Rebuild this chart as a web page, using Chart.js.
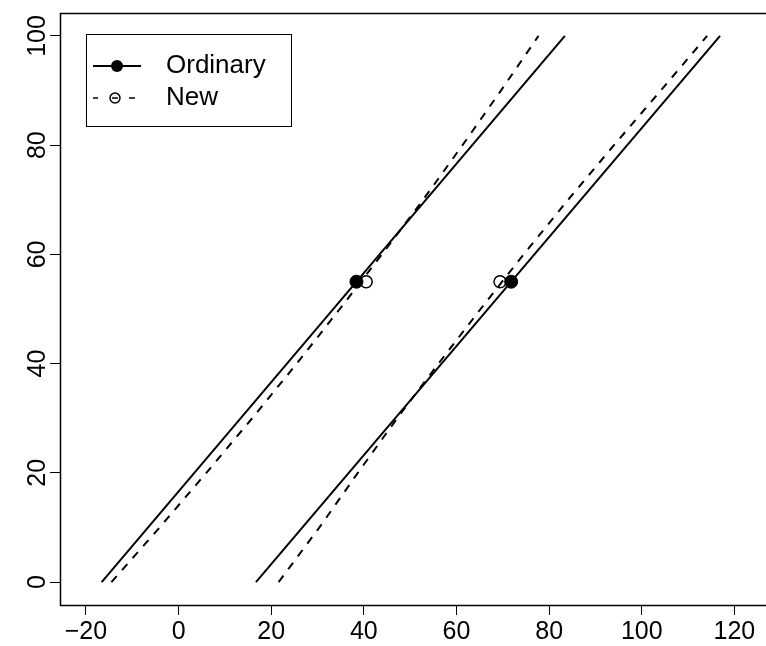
<!DOCTYPE html>
<html>
<head>
<meta charset="utf-8">
<script src="https://cdn.jsdelivr.net/npm/chart.js@4"></script>
<style>
  html, body { margin: 0; padding: 0; background: #fff; }
  #wrap { width: 766px; height: 646px; }
</style>
</head>
<body>
<div id="wrap"><canvas id="chart"></canvas></div>
<script>
// axis ticks
const xTicks = [-20, 0, 20, 40, 60, 80, 100, 120];
const yTicks = [0, 20, 40, 60, 80, 100];

// ordinary (solid) lines: two straight lines
const ordinaryY = [0, 100];
const ordinaryLowX = [-16.6, 83.4];
const ordinaryHighX = [16.7, 116.9];

// new (dashed) curves
const newY = [0, 10, 20, 30, 40, 50, 60, 70, 80, 90, 100];
const newLowX = [-14.5, -4.1, 6.0, 15.9, 25.5, 34.8, 43.9, 52.8, 61.3, 69.6, 77.7];
const newHighX = [21.6, 30.4, 38.7, 47.2, 56.1, 65.2, 74.5, 84.1, 94.0, 104.1, 114.1];

// marked points at y = 55
const pointY = [55, 55];
const ordinaryPointX = [38.4, 71.8];
const newPointX = [40.5, 69.4];

const FONT = '"Liberation Sans", Arial, Helvetica, sans-serif';

const toXY = (xs, ys) => xs.map((x, i) => ({ x: x, y: ys[i] }));

// box around the plot region (like R's box())
const boxPlugin = {
  id: 'box',
  afterDatasetsDraw(chart) {
    const { ctx, chartArea: a } = chart;
    ctx.save();
    ctx.strokeStyle = '#000';
    ctx.lineWidth = 1.5;
    ctx.strokeRect(a.left + 0.5, a.top + 0.5, a.right - a.left + 10, a.bottom - a.top);
    ctx.restore();
  }
};

// legend with line + point samples inside a framed box
const legendBox = {
  id: 'legendBox',
  afterDraw(chart) {
    const ctx = chart.ctx;
    const ds = chart.data.datasets;
    ctx.save();
    ctx.strokeStyle = '#000';
    ctx.fillStyle = '#fff';
    ctx.lineWidth = 1;
    ctx.fillRect(86, 34, 206, 93);
    ctx.strokeRect(86.5, 34.5, 205, 92);

    // Ordinary
    let y = 66;
    ctx.lineWidth = 2;
    ctx.beginPath();
    ctx.moveTo(93, y); ctx.lineTo(141, y);
    ctx.stroke();
    ctx.fillStyle = '#000';
    ctx.beginPath();
    ctx.arc(117, y, 6, 0, Math.PI * 2);
    ctx.fill();

    // New
    y = 98;
    ctx.lineWidth = 1.5;
    [[93, 98], [112, 118], [129, 135]].forEach(s => {
      ctx.beginPath();
      ctx.moveTo(s[0], y); ctx.lineTo(s[1], y);
      ctx.stroke();
    });
    ctx.beginPath();
    ctx.arc(115, y, 5, 0, Math.PI * 2);
    ctx.stroke();

    ctx.fillStyle = '#000';
    ctx.font = '26px ' + FONT;
    ctx.textBaseline = 'middle';
    ctx.textAlign = 'left';
    ctx.fillText(ds[0].label, 166, 66);
    ctx.fillText(ds[2].label, 166, 98);
    ctx.restore();
  }
};

new Chart(document.getElementById('chart'), {
  type: 'scatter',
  data: {
    datasets: [
      {
        label: 'Ordinary',
        data: toXY(ordinaryPointX, pointY),
        showLine: false,
        pointRadius: 6.5,
        pointBackgroundColor: '#000',
        pointBorderColor: '#000',
        pointBorderWidth: 1
      },
      {
        label: 'Ordinary lines',
        data: toXY(ordinaryLowX, ordinaryY),
        showLine: true,
        borderColor: '#000',
        borderWidth: 2,
        pointRadius: 0
      },
      {
        label: 'New',
        data: toXY(newPointX, pointY),
        showLine: false,
        pointRadius: 6,
        pointBackgroundColor: 'rgba(0,0,0,0)',
        pointBorderColor: '#000',
        pointBorderWidth: 1.5
      },
      {
        label: 'Ordinary lines 2',
        data: toXY(ordinaryHighX, ordinaryY),
        showLine: true,
        borderColor: '#000',
        borderWidth: 2,
        pointRadius: 0
      },
      {
        label: 'New lines',
        data: toXY(newLowX, newY),
        showLine: true,
        borderColor: '#000',
        borderWidth: 2,
        borderDash: [8, 8],
        pointRadius: 0
      },
      {
        label: 'New lines 2',
        data: toXY(newHighX, newY),
        showLine: true,
        borderColor: '#000',
        borderWidth: 2,
        borderDash: [8, 8],
        pointRadius: 0
      }
    ]
  },
  options: {
    responsive: true,
    maintainAspectRatio: false,
    animation: false,
    layout: { padding: { top: 13, right: 0, left: 0, bottom: 0 } },
    plugins: {
      legend: { display: false },
      tooltip: { enabled: false }
    },
    scales: {
      x: {
        type: 'linear',
        min: -25.6,
        max: 125.2,
        afterBuildTicks: s => { s.ticks = xTicks.map(v => ({ value: v })); },
        afterFit: s => { s.height = 41; s.paddingLeft = 0; s.paddingRight = 0; },
        grid: { drawOnChartArea: false, drawTicks: true, tickLength: 10, color: '#000', lineWidth: 1 },
        border: { display: false },
        ticks: {
          color: '#000',
          font: { size: 25, family: FONT },
          padding: 2,
          autoSkip: false,
          maxRotation: 0,
          callback: v => String(v).replace('-', '\u2212')
        }
      },
      y: {
        type: 'linear',
        min: -4.2,
        max: 104.2,
        afterBuildTicks: s => { s.ticks = yTicks.map(v => ({ value: v })); },
        afterFit: s => { s.width = 60; s.paddingTop = 0; s.paddingBottom = 0; },
        grid: { drawOnChartArea: false, drawTicks: true, tickLength: 10, color: '#000', lineWidth: 1 },
        border: { display: false },
        ticks: {
          color: '#000',
          font: { size: 25, family: FONT },
          padding: -9,
          crossAlign: 'center',
          autoSkip: false,
          minRotation: 90,
          maxRotation: 90
        }
      }
    }
  },
  plugins: [boxPlugin, legendBox]
});
</script>
</body>
</html>
